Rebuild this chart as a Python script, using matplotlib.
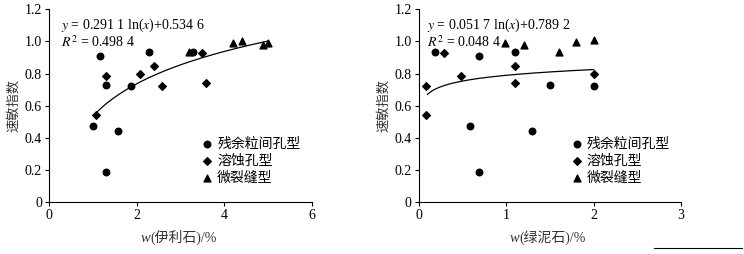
import numpy as np
import matplotlib
matplotlib.use('Agg')
import matplotlib.pyplot as plt
from matplotlib.lines import Line2D

plt.rcParams['font.family'] = ['Liberation Serif', 'Noto Sans CJK SC']
plt.rcParams['mathtext.fontset'] = 'stix'
plt.rcParams['axes.unicode_minus'] = False

# 伊利石 panel
illite_circle_x = [1.0, 1.16, 1.29, 1.29, 1.58, 1.87, 2.28, 3.29]
illite_circle_y = [0.475, 0.91, 0.73, 0.185, 0.443, 0.725, 0.937, 0.933]
illite_diamond_x = [1.08, 1.29, 2.08, 2.39, 2.58, 3.49, 3.58]
illite_diamond_y = [0.539, 0.785, 0.798, 0.848, 0.721, 0.93, 0.74]
illite_tri_x = [3.19, 4.19, 4.40, 4.88, 5.0]
illite_tri_y = [0.933, 0.993, 1.003, 0.978, 0.989]
illite_fit = (0.2911, 0.5346, 1.05, 5.0)

# 绿泥石 panel
chlorite_circle_x = [0.19, 0.69, 1.10, 0.59, 0.69, 1.30, 1.50, 2.0]
chlorite_circle_y = [0.937, 0.91, 0.933, 0.475, 0.187, 0.443, 0.73, 0.725]
chlorite_diamond_x = [0.084, 0.29, 0.084, 0.485, 1.10, 1.10, 2.0]
chlorite_diamond_y = [0.723, 0.926, 0.539, 0.785, 0.85, 0.74, 0.80]
chlorite_tri_x = [0.99, 1.2, 1.6, 1.8, 2.0]
chlorite_tri_y = [0.993, 0.98, 0.937, 0.995, 1.007]
chlorite_fit = (0.0517, 0.7892, 0.1, 2.0)

labels = ['残余粒间孔型', '溶蚀孔型', '微裂缝型']

fig = plt.figure(figsize=(7.44, 2.54), dpi=100)
ax1 = fig.add_axes([0.0659, 0.205, 0.3535, 0.758])
ax2 = fig.add_axes([0.5628, 0.205, 0.3525, 0.758])

panels = [
    (ax1, illite_circle_x, illite_circle_y, illite_diamond_x, illite_diamond_y,
     illite_tri_x, illite_tri_y, illite_fit, 6, [0, 2, 4, 6],
     '(伊利石)/%', r'$y$ = 0.291 1 ln($x$)+0.534 6', r'$R^2$ = 0.498 4', 0.046),
    (ax2, chlorite_circle_x, chlorite_circle_y, chlorite_diamond_x, chlorite_diamond_y,
     chlorite_tri_x, chlorite_tri_y, chlorite_fit, 3, [0, 1, 2, 3],
     '(绿泥石)/%', r'$y$ = 0.051 7 ln($x$)+0.789 2', r'$R^2$ = 0.048 4', 0.032),
]

for (ax, cx, cy, dx, dy, tx, ty, fit, xmax, xt, xl, eq, r2, tx0) in panels:
    ax.scatter(cx, cy, marker='o', s=22, color='black', label=labels[0], zorder=3)
    ax.scatter(dx, dy, marker='D', s=15, color='black', label=labels[1], zorder=3)
    ax.scatter(tx, ty, marker='^', s=24, color='black', label=labels[2], zorder=3)
    a, b, x0, x1 = fit
    xs = np.linspace(x0, x1, 200)
    ax.plot(xs, a * np.log(xs) + b, color='black', lw=0.9)
    ax.set_xlim(0, xmax)
    ax.set_ylim(0, 1.2)
    ax.set_xticks(xt)
    ax.set_yticks([0, 0.2, 0.4, 0.6, 0.8, 1.0, 1.2])
    ax.set_yticklabels(['0', '0.2', '0.4', '0.6', '0.8', '1.0', '1.2'])
    for s in ['top', 'right']:
        ax.spines[s].set_visible(False)
    for s in ['left', 'bottom']:
        ax.spines[s].set_linewidth(0.8)
    ax.tick_params(direction='out', length=3, width=0.8, labelsize=10, pad=2)
    ax.set_xlabel(xl, fontsize=10, color='#333333', labelpad=6)
    ax.xaxis.label.set_x(0.51)
    ax.annotate('w', xy=(0, 0.45), xycoords=ax.xaxis.label, ha='right', va='center',
                fontsize=10.5, style='italic', color='#333333')
    ax.set_ylabel('速敏指数', fontsize=9.5, color='#333333', labelpad=3)
    ax.text(tx0, 0.96, eq, transform=ax.transAxes, fontsize=10, va='top')
    ax.text(tx0, 0.87, r2, transform=ax.transAxes, fontsize=10, va='top')
    ax.legend(loc='lower left', bbox_to_anchor=(0.56, 0.055), frameon=False,
              handlelength=0.6, handletextpad=0.4, labelspacing=0.25,
              borderpad=0, fontsize=10)

fig.add_artist(Line2D([0.879, 0.997], [0.024, 0.024], color='black', lw=0.8))

fig.savefig('out.png', dpi=100)
